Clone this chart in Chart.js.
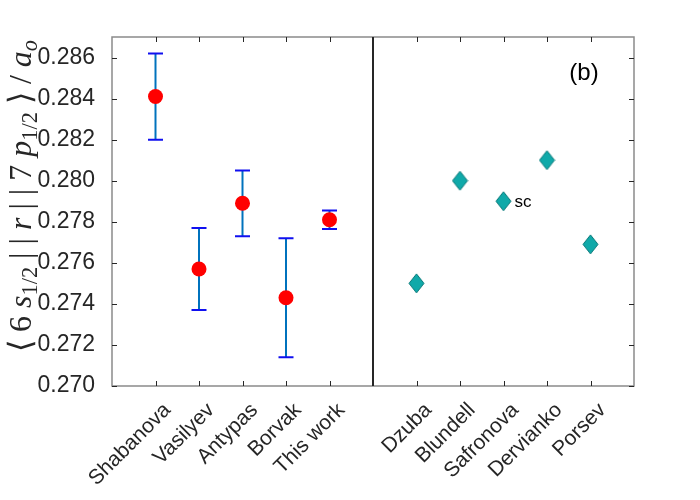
<!DOCTYPE html>
<html>
<head>
<meta charset="utf-8">
<script src="https://cdn.jsdelivr.net/npm/chart.js@4/dist/chart.umd.min.js"></script>
<style>body{margin:0;background:#fff}</style>
</head>
<body>
<canvas id="matrix" width="700" height="500"></canvas>
<script>
// left group: experiments + this work, with error bars
const expNames = ['Shabanova', 'Vasilyev', 'Antypas', 'Borvak', 'This work'];
const expPos = [1, 2, 3, 4, 5];
const expValues = [0.2841, 0.2757, 0.2789, 0.2743, 0.2781];
const expLow = [0.2820, 0.2737, 0.2773, 0.2714, 0.27765];
const expHigh = [0.2862, 0.2777, 0.2805, 0.2772, 0.27855];

// right group: theory values
const theoryNames = ['Dzuba', 'Blundell', 'Safronova', 'Dervianko', 'Porsev'];
const theoryPos = [7, 8, 9, 10, 11];
const theoryValues = [0.2750, 0.2800, 0.2790, 0.2810, 0.2769];

const dividerAt = 6;
const yTicks = [0.270, 0.272, 0.274, 0.276, 0.278, 0.280, 0.282, 0.284, 0.286];

const nameAt = {};
expPos.forEach((p, i) => nameAt[p] = expNames[i]);
theoryPos.forEach((p, i) => nameAt[p] = theoryNames[i]);
const xTicks = expPos.concat(theoryPos);

function diamond(w, h, fill, edge) {
    const c = document.createElement('canvas');
    c.width = w + 2; c.height = h + 2;
    const g = c.getContext('2d');
    g.beginPath();
    g.moveTo(c.width / 2, 1);
    g.lineTo(c.width - 1, c.height / 2);
    g.lineTo(c.width / 2, c.height - 1);
    g.lineTo(1, c.height / 2);
    g.closePath();
    g.fillStyle = fill;
    g.fill();
    g.strokeStyle = edge;
    g.lineWidth = 1;
    g.stroke();
    return c;
}

const yTitle = [
    {t: '\u27E8'}, {t: '6'}, {t: 's', it: true}, {t: '1/2', sub: true},
    {t: '|'}, {t: '|'}, {t: 'r', it: true}, {t: '|'}, {t: '|'}, {t: '7'}, {t: 'p', it: true},
    {t: '1/2', sub: true}, {t: '\u27E9'}, {t: '/'}, {t: 'a', it: true}, {t: 'o', it: true, sub: true}
];

const framePlugin = {
    id: 'frame',
    beforeDatasetsDraw(chart) {
        const ctx = chart.ctx, a = chart.chartArea;
        const xs = chart.scales.x, ys = chart.scales.y;
        ctx.save();
        // box
        ctx.strokeStyle = '#8a8a8a';
        ctx.lineWidth = 1.5;
        ctx.strokeRect(a.left, a.top, a.right - a.left, a.bottom - a.top);
        // inward ticks
        ctx.strokeStyle = '#262626';
        ctx.lineWidth = 1;
        ctx.beginPath();
        xTicks.forEach(v => {
            const x = Math.round(xs.getPixelForValue(v)) + 0.5;
            ctx.moveTo(x, a.bottom); ctx.lineTo(x, a.bottom - 5);
            ctx.moveTo(x, a.top); ctx.lineTo(x, a.top + 5);
        });
        yTicks.forEach(v => {
            const y = Math.round(ys.getPixelForValue(v)) + 0.5;
            ctx.moveTo(a.left, y); ctx.lineTo(a.left + 5, y);
            ctx.moveTo(a.right, y); ctx.lineTo(a.right - 5, y);
        });
        ctx.stroke();
        // divider
        const xd = xs.getPixelForValue(dividerAt);
        ctx.strokeStyle = '#262626';
        ctx.lineWidth = 2;
        ctx.beginPath();
        ctx.moveTo(xd, a.top); ctx.lineTo(xd, a.bottom);
        ctx.stroke();
        // error bars
        expPos.forEach((p, i) => {
            const x = xs.getPixelForValue(p);
            const y1 = ys.getPixelForValue(expLow[i]);
            const y2 = ys.getPixelForValue(expHigh[i]);
            ctx.strokeStyle = '#0072BD';
            ctx.lineWidth = 2;
            ctx.beginPath();
            ctx.moveTo(x, y1); ctx.lineTo(x, y2);
            ctx.stroke();
            ctx.strokeStyle = '#1010F0';
            ctx.beginPath();
            ctx.moveTo(x - 7.5, y1); ctx.lineTo(x + 7.5, y1);
            ctx.moveTo(x - 7.5, y2); ctx.lineTo(x + 7.5, y2);
            ctx.stroke();
        });
        ctx.restore();
    },
    afterDraw(chart) {
        const ctx = chart.ctx, a = chart.chartArea;
        const xs = chart.scales.x, ys = chart.scales.y;
        ctx.save();
        ctx.fillStyle = '#000';
        ctx.font = '24px "Liberation Sans", Arial, sans-serif';
        ctx.textAlign = 'center';
        ctx.textBaseline = 'middle';
        ctx.fillText('(b)', a.right - 50, a.top + 36);
        // note beside Safronova
        const k = theoryNames.indexOf('Safronova');
        ctx.font = '17px "Liberation Sans", Arial, sans-serif';
        ctx.textAlign = 'left';
        ctx.fillText('sc', xs.getPixelForValue(theoryPos[k]) + 11, ys.getPixelForValue(theoryValues[k]) + 1);

        // y title, math style, spread to span ~312px (no gap before subscripts)
        const size = 32;
        const fontOf = p => {
            const s = p.sub ? size * 0.7 : size;
            return (p.it ? 'italic ' : '') + s + 'px "Liberation Serif", serif';
        };
        let total = 0, nGaps = 0;
        yTitle.forEach((p, i) => {
            ctx.font = fontOf(p);
            p.w = ctx.measureText(p.t).width;
            total += p.w;
            if (i > 0 && !p.sub) nGaps++;
        });
        const gap = Math.max(0, (312 - total) / nGaps);
        ctx.translate(19, 196);
        ctx.rotate(-Math.PI / 2);
        ctx.fillStyle = '#262626';
        ctx.textBaseline = 'alphabetic';
        let u = -(total + gap * nGaps) / 2;
        yTitle.forEach((p, i) => {
            if (i > 0 && !p.sub) u += gap;
            ctx.font = fontOf(p);
            ctx.fillText(p.t, u, p.sub ? 12 + size * 0.2 : 12);
            u += p.w;
        });
        ctx.restore();
    }
};

new Chart(document.getElementById('matrix'), {
    type: 'scatter',
    data: {
        datasets: [{
            label: 'experiment',
            data: expPos.map((p, i) => ({x: p, y: expValues[i]})),
            backgroundColor: '#FF0000',
            borderWidth: 0,
            pointRadius: 7.5,
            pointHoverRadius: 7.5
        }, {
            label: 'theory',
            data: theoryPos.map((p, i) => ({x: p, y: theoryValues[i]})),
            pointStyle: diamond(15, 19, '#10A9A9', '#0a7878'),
            pointRadius: 9
        }]
    },
    options: {
        responsive: false,
        animation: false,
        devicePixelRatio: 1,
        layout: {padding: {top: 37, right: 66, bottom: 0, left: 0}},
        plugins: {legend: {display: false}, tooltip: {enabled: false}},
        scales: {
            x: {
                type: 'linear',
                min: 0,
                max: 12,
                grid: {display: false},
                border: {display: false},
                afterBuildTicks: s => { s.ticks = xTicks.map(v => ({value: v})); },
                afterFit: s => { s.height = 114; },
                ticks: {
                    autoSkip: false,
                    minRotation: 45,
                    maxRotation: 45,
                    labelOffset: 12,
                    padding: 4,
                    color: '#262626',
                    font: {family: '"Liberation Sans", Arial, sans-serif', size: 21},
                    callback: v => nameAt[v] || ''
                }
            },
            y: {
                min: 0.270,
                max: 0.287,
                grid: {display: false},
                border: {display: false},
                afterBuildTicks: s => { s.ticks = yTicks.map(v => ({value: v})); },
                afterFit: s => { s.width = 112; },
                ticks: {
                    padding: 9,
                    color: '#262626',
                    font: {family: '"Liberation Sans", Arial, sans-serif', size: 23},
                    callback: v => v.toFixed(3)
                }
            }
        }
    },
    plugins: [framePlugin]
});
</script>
</body>
</html>
